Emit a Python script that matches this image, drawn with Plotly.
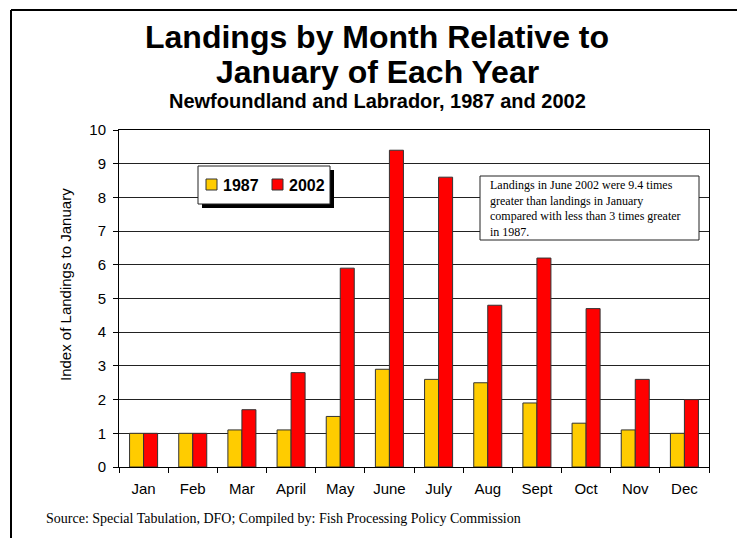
import plotly.graph_objects as go

# Monthly landings indexed to January (January = 1)
months = ["Jan", "Feb", "Mar", "April", "May", "June", "July", "Aug", "Sept", "Oct", "Nov", "Dec"]
index_1987 = [1.0, 1.0, 1.1, 1.1, 1.5, 2.9, 2.6, 2.5, 1.9, 1.3, 1.1, 1.0]
index_2002 = [1.0, 1.0, 1.7, 2.8, 5.9, 9.4, 8.6, 4.8, 6.2, 4.7, 2.6, 2.0]
series_names = ["1987", "2002"]
series_colors = ["#FFCC00", "#FF0000"]
y_ticks = list(range(0, 11))

W, H = 737, 538
L, R, T, B = 119, 709, 130, 467  # plot area in pixels

def px(x):
    return (x - L) / (R - L)

def py(y):
    return (B - y) / (B - T)

fig = go.Figure()
for name, vals, col in zip(series_names, [index_1987, index_2002], series_colors):
    fig.add_trace(go.Bar(
        x=months, y=vals, name=name,
        marker=dict(color=col, line=dict(color="#333333", width=1)),
        showlegend=False,
    ))

shapes = []
annotations = []

# page frame (top and left edges)
shapes.append(dict(type="line", xref="paper", yref="paper",
                   x0=px(11), x1=px(737), y0=py(10), y1=py(10),
                   line=dict(color="black", width=2)))
shapes.append(dict(type="line", xref="paper", yref="paper",
                   x0=px(11), x1=px(11), y0=py(10), y1=py(538),
                   line=dict(color="black", width=2)))

# legend box with drop shadow
lx0, lx1, ly0, ly1 = 198, 330, 166, 204
shapes.append(dict(type="rect", xref="paper", yref="paper", layer="above",
                   x0=px(lx0 + 4), x1=px(lx1 + 4), y0=py(ly0 + 4), y1=py(ly1 + 4),
                   fillcolor="black", line=dict(width=0)))
shapes.append(dict(type="rect", xref="paper", yref="paper", layer="above",
                   x0=px(lx0), x1=px(lx1), y0=py(ly0), y1=py(ly1),
                   fillcolor="white", line=dict(color="#222222", width=1)))
swatch_x = [206, 272]
for sx, name, col in zip(swatch_x, series_names, series_colors):
    shapes.append(dict(type="rect", xref="paper", yref="paper", layer="above",
                       x0=px(sx), x1=px(sx + 11), y0=py(179), y1=py(190),
                       fillcolor=col, line=dict(color="#333333", width=1)))
    annotations.append(dict(xref="paper", yref="paper", x=px(sx + 15), y=py(185),
                            xanchor="left", yanchor="middle", showarrow=False,
                            text="<b>%s</b>" % name,
                            font=dict(family="Liberation Sans", size=16, color="black")))

# note box
nx0, nx1, ny0, ny1 = 480, 699, 176, 240
shapes.append(dict(type="rect", xref="paper", yref="paper", layer="above",
                   x0=px(nx0), x1=px(nx1), y0=py(ny0), y1=py(ny1),
                   fillcolor="white", line=dict(color="#222222", width=1)))
annotations.append(dict(xref="paper", yref="paper", x=px(488), y=py(208),
                        xanchor="left", yanchor="middle", align="left", showarrow=False,
                        text=("Landings in June 2002 were 9.4 times<br>"
                              "greater than landings in January<br>"
                              "compared with less than 3 times greater<br>"
                              "in 1987."),
                        font=dict(family="Liberation Serif", size=12, color="black")))

# titles
annotations.append(dict(xref="paper", yref="paper", x=px(377), y=py(37),
                        xanchor="center", yanchor="middle", showarrow=False,
                        text="<b>Landings by Month Relative to</b>",
                        font=dict(family="Liberation Sans", size=32, color="black")))
annotations.append(dict(xref="paper", yref="paper", x=px(377), y=py(72),
                        xanchor="center", yanchor="middle", showarrow=False,
                        text="<b>January of Each Year</b>",
                        font=dict(family="Liberation Sans", size=32, color="black")))
annotations.append(dict(xref="paper", yref="paper", x=px(377), y=py(101),
                        xanchor="center", yanchor="middle", showarrow=False,
                        text="<b>Newfoundland and Labrador, 1987 and 2002</b>",
                        font=dict(family="Liberation Sans", size=20, color="black")))

# y-axis title
annotations.append(dict(xref="paper", yref="paper", x=px(65), y=py(285),
                        xanchor="center", yanchor="middle", showarrow=False, textangle=-90,
                        text="Index of Landings to January",
                        font=dict(family="Liberation Sans", size=15, color="black")))

# source line
annotations.append(dict(xref="paper", yref="paper", x=px(44), y=py(518),
                        xanchor="left", yanchor="middle", showarrow=False,
                        text="Source: Special Tabulation, DFO; Compiled by: Fish Processing Policy Commission",
                        font=dict(family="Liberation Serif", size=14, color="black")))

fig.update_layout(
    width=W, height=H,
    margin=dict(l=L, r=W - R, t=T, b=H - B, pad=0),
    paper_bgcolor="white", plot_bgcolor="white",
    barmode="group", bargap=0.43, bargroupgap=0,
    shapes=shapes, annotations=annotations,
    showlegend=False,
    font=dict(family="Liberation Sans", size=15, color="black"),
)
fig.update_xaxes(
    type="category", showline=True, linecolor="black", linewidth=1, mirror=True,
    ticks="outside", tickson="boundaries", ticklen=5, tickcolor="black",
    ticklabelstandoff=8,
    showgrid=False, tickfont=dict(size=15, color="black"),
)
fig.update_yaxes(
    range=[0, 10], tickvals=y_ticks, showline=True, linecolor="black", linewidth=1,
    mirror=True, ticks="outside", ticklen=5, tickcolor="black",
    ticklabelstandoff=4,
    showgrid=True, gridcolor="#222222", gridwidth=1, zeroline=False,
    tickfont=dict(size=15, color="black"),
)

fig.write_html("out.html")
